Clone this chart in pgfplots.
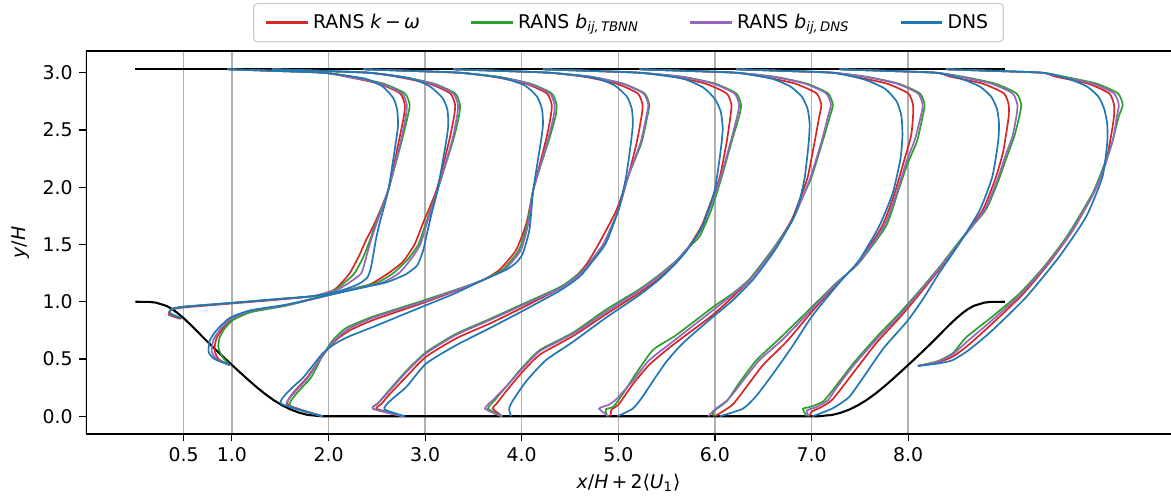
\documentclass[border=0pt]{standalone}
\usepackage{fontspec}
\setmainfont{DejaVu Sans}
\usepackage{pgfplots}
\pgfplotsset{compat=1.18}
\definecolor{cred}{HTML}{D62728}
\definecolor{cgreen}{HTML}{2CA02C}
\definecolor{cpurple}{HTML}{9467BD}
\definecolor{cblue}{HTML}{1F77B4}
\definecolor{gridgray}{HTML}{B0B0B0}
\definecolor{leggray}{HTML}{CCCCCC}
\pgfplotsset{
  pr/.style={smooth, tension=0.35, line width=0.9pt},
  rr/.style={pr, cred},
  gg/.style={pr, cgreen},
  pp/.style={pr, cpurple},
  bb/.style={pr, cblue},
}
\begin{document}
\begin{tikzpicture}
\begin{axis}[
  name=ax,
  scale only axis, width=575.05pt, height=203pt,
  xmin=-0.51, xmax=10.72, ymin=-0.155, ymax=3.19,
  xtick={0.5,1,2,3,4,5,6,7,8},
  xticklabels={0.5,1.0,2.0,3.0,4.0,5.0,6.0,7.0,8.0},
  ytick={0,0.5,1,1.5,2,2.5,3},
  yticklabels={0.0,0.5,1.0,1.5,2.0,2.5,3.0},
  xmajorgrids, grid style={gridgray, line width=0.8pt},
  tick align=outside, tick pos=left, major tick length=3.5pt,
  tick style={black, line width=0.6pt},
  axis line style={draw=none},
  xlabel={\textit{x}/\textit{H}\,+\,2⟨\textit{U}\textsubscript{1}⟩},
  ylabel={\textit{y}/\textit{H}},
  legend style={at={(0.5,1)}, anchor=south, yshift=4.6pt, legend columns=4,
    draw=leggray, rounded corners=2pt, line width=0.6pt, inner xsep=6pt, inner ysep=3.6pt,
    /tikz/every even column/.append style={column sep=24.5pt}},
  legend cell align=left,
  legend image code/.code={\draw[#1, line width=1.5pt] (0pt,0pt) -- (22pt,0pt);},
]
% walls
\addplot[black, line width=1.1pt, forget plot] coordinates {
(0,1.0) (0.1429,0.999) (0.2143,0.9923) (0.3214,0.9643) (0.375,0.9393) (0.4286,0.9076) (0.5,0.857) (0.5714,0.8003) (0.6071,0.7703) (0.7143,0.6786) (0.8036,0.6042) (0.8929,0.5322) (0.9821,0.4620) (1.0714,0.3929) (1.1607,0.3246) (1.25,0.2587) (1.3393,0.1974) (1.4286,0.1429) (1.5179,0.0967) (1.6071,0.0594) (1.6964,0.0311) (1.7857,0.0118) (1.9286,0.0)
(7.0714,0.0) (7.2143,0.0118) (7.3036,0.0311) (7.3929,0.0594) (7.4821,0.0967) (7.5714,0.1429) (7.6607,0.1974) (7.75,0.2587) (7.8393,0.3246) (7.9286,0.3929) (8.0179,0.4620) (8.1071,0.5322) (8.1964,0.6042) (8.2857,0.6786) (8.3929,0.7703) (8.4286,0.8003) (8.5,0.857) (8.5714,0.9076) (8.625,0.9393) (8.6786,0.9643) (8.7857,0.9923) (8.8571,0.999) (9.0,1.0)};
\addplot[black, line width=1.1pt, forget plot] coordinates {(0,3.036) (9,3.036)};
% ---------------- RED
\addplot[rr] coordinates {(0.47,0.85) (0.35,0.885) (0.37,0.93) (0.50,0.95) (1.00,0.985) (1.50,1.02) (1.85,1.05) (2.05,1.10) (2.14,1.17) (2.22,1.25) (2.31,1.39) (2.39,1.54) (2.48,1.69) (2.62,1.98) (2.73,2.41) (2.78,2.62) (2.79,2.72) (2.74,2.82) (2.52,2.905) (2.19,2.965) (1.95,3.0) (1.45,3.016) (0.95,3.03)};
\addlegendentry{RANS \textit{k}\,−\,\textit{ω}}
\addplot[rr, forget plot] coordinates {(0.98,0.446) (0.86,0.50) (0.82,0.58) (0.84,0.68) (0.91,0.77) (1.02,0.855) (1.20,0.92) (1.53,0.965) (1.70,0.995) (2.01,1.06) (2.30,1.12) (2.45,1.16) (2.62,1.25) (2.77,1.35) (2.89,1.50) (2.98,1.69) (3.12,1.98) (3.25,2.41) (3.30,2.62) (3.31,2.72) (3.26,2.82) (3.04,2.905) (2.71,2.965) (2.42,3.0) (1.92,3.016) (1.42,3.03)};
\addplot[rr, forget plot] coordinates {(1.94,0.0) (1.58,0.10) (1.63,0.20) (1.78,0.34) (1.93,0.52) (2.07,0.66) (2.22,0.75) (2.46,0.84) (2.98,0.99) (3.30,1.09) (3.60,1.19) (3.77,1.28) (3.94,1.45) (4.05,1.69) (4.12,1.98) (4.25,2.41) (4.30,2.62) (4.31,2.72) (4.26,2.82) (4.04,2.905) (3.71,2.965) (3.36,3.0) (2.86,3.016) (2.36,3.03)};
\addplot[rr, forget plot] coordinates {(2.78,0.0) (2.50,0.065) (2.55,0.11) (2.63,0.19) (2.81,0.35) (3.01,0.52) (3.32,0.68) (3.67,0.81) (4.01,0.95) (4.40,1.12) (4.58,1.24) (4.68,1.34) (4.80,1.51) (4.98,1.80) (5.10,2.09) (5.19,2.39) (5.24,2.62) (5.25,2.72) (5.20,2.82) (4.98,2.905) (4.65,2.965) (4.29,3.0) (3.79,3.016) (3.29,3.03)};
\addplot[rr, forget plot] coordinates {(3.80,0.0) (3.70,0.067) (3.75,0.12) (3.84,0.22) (4.01,0.39) (4.19,0.54) (4.53,0.70) (4.87,0.89) (5.22,1.08) (5.43,1.21) (5.60,1.35) (5.72,1.47) (5.86,1.66) (5.97,1.90) (6.05,2.09) (6.12,2.39) (6.16,2.62) (6.17,2.72) (6.12,2.82) (5.90,2.905) (5.57,2.965) (5.22,3.0) (4.72,3.016) (4.22,3.03)};
\addplot[rr, forget plot] coordinates {(4.92,0.0) (4.93,0.06) (5.00,0.10) (5.15,0.28) (5.32,0.45) (5.56,0.62) (5.97,0.88) (6.18,1.04) (6.37,1.20) (6.60,1.45) (6.79,1.71) (6.88,1.90) (6.96,2.09) (7.03,2.39) (7.08,2.62) (7.10,2.72) (7.05,2.82) (6.83,2.905) (6.50,2.965) (6.22,3.0) (5.72,3.016) (5.22,3.03)};
\addplot[rr, forget plot] coordinates {(6.00,0.0) (6.18,0.10) (6.32,0.25) (6.50,0.45) (6.75,0.66) (7.01,0.92) (7.27,1.16) (7.49,1.35) (7.73,1.66) (7.86,1.95) (7.96,2.24) (8.03,2.45) (8.05,2.62) (8.05,2.72) (8.00,2.82) (7.78,2.905) (7.45,2.965) (7.22,3.0) (6.72,3.016) (6.22,3.03)};
\addplot[rr, forget plot] coordinates {(6.98,0.0) (7.00,0.04) (7.10,0.08) (7.22,0.15) (7.45,0.40) (7.67,0.64) (7.91,0.86) (8.10,1.05) (8.32,1.28) (8.54,1.53) (8.77,1.80) (8.90,2.07) (8.98,2.30) (9.02,2.50) (9.04,2.62) (9.04,2.72) (8.99,2.82) (8.77,2.905) (8.44,2.965) (8.29,3.0) (7.79,3.016) (7.29,3.03)};
\addplot[rr, forget plot] coordinates {(8.10,0.44) (8.30,0.47) (8.46,0.52) (8.62,0.62) (8.87,0.81) (9.18,1.06) (9.45,1.33) (9.70,1.62) (9.92,1.95) (10.04,2.20) (10.10,2.45) (10.13,2.62) (10.13,2.72) (10.08,2.82) (9.86,2.905) (9.53,2.965) (9.39,3.0) (8.89,3.016) (8.39,3.03)};
% ---------------- GREEN
\addplot[gg] coordinates {(0.48,0.855) (0.36,0.89) (0.37,0.935) (0.50,0.957) (1.00,0.99) (1.50,1.025) (1.85,1.05) (2.06,1.10) (2.17,1.17) (2.27,1.25) (2.36,1.39) (2.43,1.54) (2.49,1.69) (2.62,1.98) (2.76,2.41) (2.82,2.62) (2.84,2.72) (2.79,2.82) (2.57,2.905) (2.24,2.965) (1.95,3.0) (1.45,3.016) (0.95,3.03)};
\addlegendentry{RANS \textit{b}\textsubscript{\textit{ij,\,TBNN}}}
\addplot[gg, forget plot] coordinates {(0.98,0.446) (0.90,0.52) (0.86,0.60) (0.87,0.68) (0.92,0.76) (1.01,0.84) (1.20,0.91) (1.53,0.96) (1.70,0.995) (2.01,1.065) (2.30,1.125) (2.50,1.165) (2.67,1.25) (2.82,1.37) (2.93,1.50) (3.01,1.69) (3.13,1.98) (3.29,2.41) (3.35,2.62) (3.36,2.72) (3.31,2.82) (3.09,2.905) (2.76,2.965) (2.42,3.0) (1.92,3.016) (1.42,3.03)};
\addplot[gg, forget plot] coordinates {(1.94,0.0) (1.60,0.09) (1.67,0.20) (1.82,0.34) (1.92,0.50) (2.04,0.66) (2.18,0.77) (2.46,0.87) (2.98,1.01) (3.30,1.10) (3.60,1.19) (3.80,1.28) (3.97,1.45) (4.06,1.69) (4.12,1.98) (4.28,2.41) (4.35,2.62) (4.36,2.72) (4.31,2.82) (4.09,2.905) (3.76,2.965) (3.36,3.0) (2.86,3.016) (2.36,3.03)};
\addplot[gg, forget plot] coordinates {(2.77,0.0) (2.46,0.067) (2.52,0.12) (2.63,0.23) (2.81,0.40) (3.01,0.56) (3.32,0.72) (3.67,0.85) (4.01,0.98) (4.40,1.13) (4.60,1.25) (4.72,1.36) (4.85,1.51) (5.00,1.80) (5.10,2.09) (5.24,2.39) (5.30,2.62) (5.32,2.72) (5.27,2.82) (5.05,2.905) (4.72,2.965) (4.29,3.0) (3.79,3.016) (3.29,3.03)};
\addplot[gg, forget plot] coordinates {(3.80,0.0) (3.65,0.067) (3.72,0.14) (3.84,0.26) (4.01,0.43) (4.19,0.58) (4.53,0.73) (4.87,0.93) (5.22,1.11) (5.43,1.24) (5.60,1.36) (5.72,1.47) (5.84,1.57) (5.96,1.80) (6.07,2.09) (6.17,2.39) (6.25,2.62) (6.27,2.72) (6.22,2.82) (6.00,2.905) (5.67,2.965) (5.22,3.0) (4.72,3.016) (4.22,3.03)};
\addplot[gg, forget plot] coordinates {(4.88,0.0) (4.87,0.06) (4.95,0.085) (5.05,0.20) (5.18,0.37) (5.36,0.58) (5.60,0.71) (5.99,0.96) (6.18,1.07) (6.36,1.20) (6.59,1.45) (6.80,1.71) (6.90,1.90) (7.00,2.09) (7.11,2.39) (7.19,2.62) (7.22,2.72) (7.17,2.82) (6.95,2.905) (6.62,2.965) (6.22,3.0) (5.72,3.016) (5.22,3.03)};
\addplot[gg, forget plot] coordinates {(5.99,0.0) (5.98,0.04) (6.12,0.13) (6.25,0.29) (6.43,0.49) (6.67,0.68) (7.01,0.96) (7.25,1.16) (7.49,1.34) (7.77,1.66) (7.89,1.95) (7.99,2.20) (8.09,2.40) (8.15,2.62) (8.17,2.72) (8.12,2.82) (7.90,2.905) (7.57,2.965) (7.22,3.0) (6.72,3.016) (6.22,3.03)};
\addplot[gg, forget plot] coordinates {(6.95,0.0) (6.91,0.065) (7.00,0.085) (7.12,0.13) (7.22,0.23) (7.43,0.46) (7.67,0.69) (7.91,0.90) (8.10,1.08) (8.32,1.30) (8.55,1.55) (8.80,1.80) (8.93,2.05) (9.01,2.24) (9.10,2.45) (9.15,2.62) (9.17,2.72) (9.12,2.82) (8.90,2.905) (8.57,2.965) (8.29,3.0) (7.79,3.016) (7.29,3.03)};
\addplot[gg, forget plot] coordinates {(8.10,0.44) (8.30,0.48) (8.46,0.55) (8.60,0.69) (8.87,0.87) (9.15,1.07) (9.40,1.30) (9.65,1.58) (9.91,1.95) (10.03,2.20) (10.11,2.39) (10.18,2.62) (10.22,2.72) (10.17,2.82) (9.95,2.905) (9.62,2.965) (9.39,3.0) (8.89,3.016) (8.39,3.03)};
% ---------------- PURPLE
\addplot[pp] coordinates {(0.48,0.855) (0.36,0.895) (0.37,0.935) (0.50,0.957) (1.00,0.99) (1.50,1.025) (1.85,1.05) (2.08,1.10) (2.22,1.17) (2.34,1.25) (2.39,1.39) (2.44,1.54) (2.50,1.69) (2.62,1.98) (2.75,2.41) (2.80,2.62) (2.81,2.72) (2.76,2.82) (2.54,2.905) (2.21,2.965) (1.95,3.0) (1.45,3.016) (0.95,3.03)};
\addlegendentry{RANS \textit{b}\textsubscript{\textit{ij,\,DNS}}}
\addplot[pp, forget plot] coordinates {(0.98,0.446) (0.84,0.50) (0.79,0.57) (0.81,0.67) (0.88,0.76) (0.99,0.85) (1.19,0.92) (1.53,0.965) (1.70,0.997) (2.01,1.06) (2.30,1.12) (2.55,1.165) (2.73,1.25) (2.86,1.38) (2.95,1.50) (3.02,1.69) (3.13,1.98) (3.28,2.41) (3.33,2.62) (3.34,2.72) (3.29,2.82) (3.07,2.905) (2.74,2.965) (2.42,3.0) (1.92,3.016) (1.42,3.03)};
\addplot[pp, forget plot] coordinates {(1.94,0.0) (1.57,0.095) (1.64,0.20) (1.79,0.34) (1.93,0.52) (2.06,0.66) (2.20,0.76) (2.46,0.86) (2.98,1.00) (3.30,1.095) (3.60,1.19) (3.82,1.28) (3.99,1.45) (4.07,1.69) (4.12,1.98) (4.27,2.41) (4.33,2.62) (4.34,2.72) (4.29,2.82) (4.07,2.905) (3.74,2.965) (3.36,3.0) (2.86,3.016) (2.36,3.03)};
\addplot[pp, forget plot] coordinates {(2.77,0.0) (2.46,0.065) (2.52,0.12) (2.63,0.22) (2.81,0.39) (3.01,0.55) (3.32,0.71) (3.67,0.84) (4.01,0.97) (4.40,1.12) (4.60,1.24) (4.71,1.35) (4.85,1.51) (5.00,1.80) (5.10,2.09) (5.23,2.39) (5.29,2.62) (5.31,2.72) (5.26,2.82) (5.04,2.905) (4.71,2.965) (4.29,3.0) (3.79,3.016) (3.29,3.03)};
\addplot[pp, forget plot] coordinates {(3.79,0.0) (3.62,0.067) (3.70,0.14) (3.84,0.26) (4.01,0.42) (4.19,0.57) (4.53,0.72) (4.87,0.91) (5.22,1.10) (5.43,1.23) (5.60,1.355) (5.72,1.47) (5.85,1.62) (5.96,1.85) (6.06,2.09) (6.16,2.39) (6.23,2.62) (6.25,2.72) (6.20,2.82) (5.98,2.905) (5.65,2.965) (5.22,3.0) (4.72,3.016) (4.22,3.03)};
\addplot[pp, forget plot] coordinates {(4.90,0.0) (4.80,0.067) (4.90,0.10) (4.98,0.15) (5.15,0.31) (5.32,0.49) (5.56,0.65) (5.97,0.92) (6.18,1.06) (6.37,1.20) (6.60,1.45) (6.80,1.71) (6.90,1.90) (6.99,2.09) (7.10,2.39) (7.17,2.62) (7.20,2.72) (7.15,2.82) (6.93,2.905) (6.60,2.965) (6.22,3.0) (5.72,3.016) (5.22,3.03)};
\addplot[pp, forget plot] coordinates {(5.93,0.0) (6.00,0.06) (6.14,0.15) (6.28,0.30) (6.46,0.49) (6.70,0.67) (7.01,0.94) (7.26,1.16) (7.49,1.345) (7.75,1.66) (7.88,1.95) (7.98,2.22) (8.07,2.42) (8.13,2.62) (8.15,2.72) (8.10,2.82) (7.88,2.905) (7.55,2.965) (7.22,3.0) (6.72,3.016) (6.22,3.03)};
\addplot[pp, forget plot] coordinates {(6.97,0.0) (6.95,0.05) (7.05,0.08) (7.17,0.14) (7.25,0.24) (7.44,0.45) (7.67,0.67) (7.91,0.88) (8.10,1.07) (8.32,1.29) (8.55,1.54) (8.79,1.80) (8.92,2.06) (9.00,2.26) (9.08,2.45) (9.12,2.62) (9.13,2.72) (9.08,2.82) (8.86,2.905) (8.53,2.965) (8.29,3.0) (7.79,3.016) (7.29,3.03)};
\addplot[pp, forget plot] coordinates {(8.10,0.44) (8.30,0.475) (8.46,0.54) (8.62,0.66) (8.87,0.84) (9.17,1.07) (9.43,1.32) (9.68,1.60) (9.92,1.95) (10.04,2.20) (10.12,2.42) (10.16,2.62) (10.18,2.72) (10.13,2.82) (9.91,2.905) (9.58,2.965) (9.39,3.0) (8.89,3.016) (8.39,3.03)};
% ---------------- BLUE (DNS)
\addplot[bb] coordinates {(0.48,0.855) (0.36,0.90) (0.37,0.935) (0.50,0.955) (1.00,0.99) (1.50,1.025) (1.85,1.05) (2.10,1.09) (2.30,1.15) (2.40,1.21) (2.44,1.30) (2.49,1.54) (2.53,1.69) (2.62,1.98) (2.70,2.41) (2.72,2.55) (2.71,2.68) (2.67,2.78) (2.56,2.88) (2.37,2.95) (1.95,3.0) (1.45,3.016) (0.95,3.03)};
\addlegendentry{DNS}
\addplot[bb, forget plot] coordinates {(0.98,0.446) (0.82,0.50) (0.76,0.56) (0.77,0.66) (0.84,0.75) (0.98,0.86) (1.19,0.925) (1.53,0.97) (1.70,1.00) (2.01,1.06) (2.39,1.13) (2.60,1.17) (2.80,1.24) (2.92,1.32) (2.98,1.45) (3.02,1.60) (3.07,1.78) (3.13,1.98) (3.22,2.41) (3.24,2.55) (3.23,2.68) (3.18,2.78) (3.05,2.88) (2.85,2.95) (2.42,3.0) (1.92,3.016) (1.42,3.03)};
\addplot[bb, forget plot] coordinates {(1.94,0.0) (1.51,0.11) (1.60,0.23) (1.74,0.34) (1.94,0.55) (2.08,0.64) (2.22,0.70) (2.46,0.78) (2.98,0.96) (3.30,1.07) (3.60,1.19) (3.84,1.28) (3.94,1.34) (4.01,1.42) (4.08,1.63) (4.12,1.98) (4.20,2.41) (4.22,2.55) (4.21,2.68) (4.16,2.79) (4.03,2.89) (3.79,2.955) (3.36,3.0) (2.86,3.016) (2.36,3.03)};
\addplot[bb, forget plot] coordinates {(2.79,0.0) (2.58,0.06) (2.62,0.12) (2.70,0.18) (2.81,0.26) (3.01,0.46) (3.32,0.62) (3.67,0.77) (4.01,0.92) (4.40,1.10) (4.60,1.22) (4.72,1.34) (4.87,1.51) (5.00,1.80) (5.08,2.09) (5.13,2.39) (5.15,2.55) (5.14,2.68) (5.09,2.79) (4.96,2.89) (4.75,2.955) (4.29,3.0) (3.79,3.016) (3.29,3.03)};
\addplot[bb, forget plot] coordinates {(3.89,0.0) (3.87,0.067) (3.91,0.14) (4.05,0.31) (4.25,0.49) (4.53,0.65) (4.87,0.86) (5.22,1.06) (5.43,1.20) (5.60,1.34) (5.72,1.46) (5.87,1.66) (5.99,1.95) (6.04,2.20) (6.07,2.40) (6.08,2.52) (6.06,2.66) (6.00,2.77) (5.88,2.87) (5.66,2.95) (5.22,3.0) (4.72,3.016) (4.22,3.03)};
\addplot[bb, forget plot] coordinates {(4.99,0.0) (5.15,0.067) (5.25,0.17) (5.36,0.31) (5.50,0.48) (5.67,0.64) (5.94,0.84) (6.18,1.01) (6.40,1.20) (6.62,1.45) (6.80,1.71) (6.88,1.90) (6.93,2.09) (6.97,2.39) (6.98,2.55) (6.96,2.68) (6.90,2.79) (6.78,2.88) (6.58,2.95) (6.22,3.0) (5.72,3.016) (5.22,3.03)};
\addplot[bb, forget plot] coordinates {(6.05,0.0) (6.29,0.067) (6.43,0.18) (6.60,0.37) (6.80,0.61) (7.01,0.88) (7.29,1.17) (7.49,1.36) (7.70,1.66) (7.84,1.95) (7.92,2.25) (7.94,2.45) (7.93,2.62) (7.88,2.75) (7.76,2.86) (7.55,2.94) (7.22,3.0) (6.72,3.016) (6.22,3.03)};
\addplot[bb, forget plot] coordinates {(7.01,0.0) (7.22,0.07) (7.39,0.17) (7.56,0.37) (7.75,0.60) (7.99,0.83) (8.15,1.02) (8.32,1.25) (8.53,1.51) (8.74,1.80) (8.87,2.09) (8.93,2.39) (8.94,2.55) (8.92,2.68) (8.86,2.79) (8.74,2.88) (8.54,2.95) (8.29,3.0) (7.79,3.016) (7.29,3.03)};
\addplot[bb, forget plot] coordinates {(8.10,0.44) (8.30,0.46) (8.46,0.49) (8.63,0.58) (8.87,0.75) (9.22,1.04) (9.56,1.39) (9.84,1.74) (10.01,2.09) (10.06,2.39) (10.06,2.55) (10.03,2.68) (9.97,2.79) (9.85,2.88) (9.65,2.95) (9.39,3.0) (8.89,3.016) (8.39,3.03)};
% frame without right spine
\draw[black, line width=0.6pt] (rel axis cs:1,1) -- (rel axis cs:0,1) -- (rel axis cs:0,0) -- (rel axis cs:1,0);
\end{axis}
\pgfresetboundingbox
\path[use as bounding box] ([xshift=-45.58pt, yshift=-33.92pt]ax.south west) rectangle ([yshift=27.03pt]ax.north east);
\end{tikzpicture}
\end{document}
